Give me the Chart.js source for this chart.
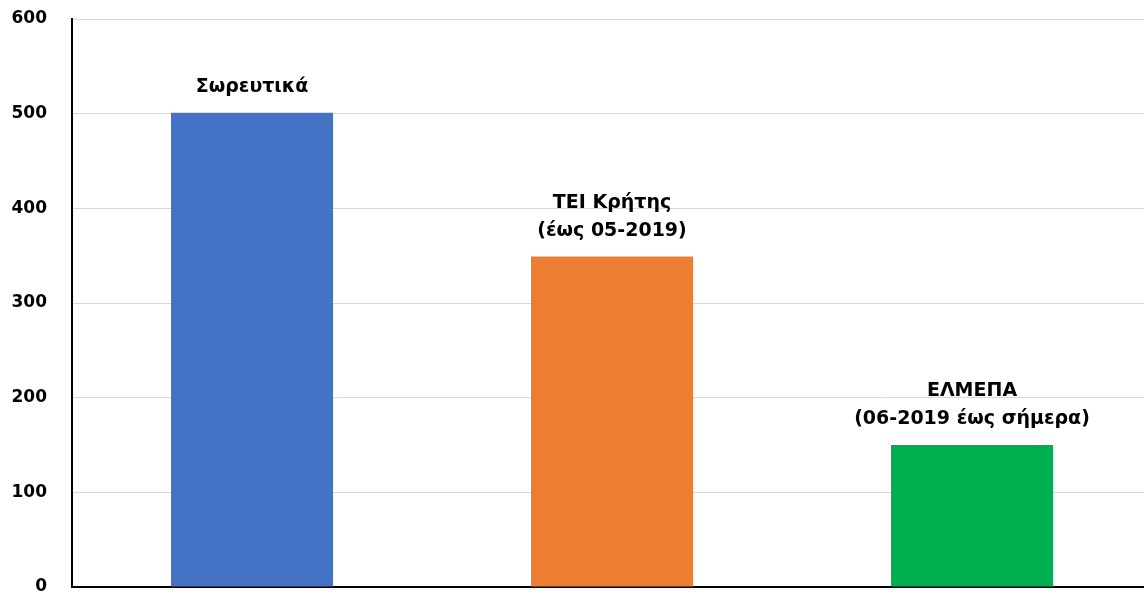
<!DOCTYPE html>
<html>
<head>
<meta charset="utf-8">
<script src="https://cdn.jsdelivr.net/npm/chart.js@4.4.1/dist/chart.umd.min.js"></script>
<style>
  html, body { margin: 0; padding: 0; background: #fff; overflow: hidden; }
  #wrap { width: 1152px; height: 599px; position: relative; }
</style>
</head>
<body>
<div id="wrap"><canvas id="myChart"></canvas></div>
<script>
// datos
const categories = ['Σωρευτικά', 'ΤΕΙ Κρήτης', 'ΕΛΜΕΠΑ'];
const values = [501, 349, 150];
const barColors = ['#4472C4', '#ED7D31', '#00B050'];
const barLabels = [
    ['Σωρευτικά'],
    ['ΤΕΙ Κρήτης', '(έως 05-2019)'],
    ['ΕΛΜΕΠΑ', '(06-2019 έως σήμερα)']
];
const yTicks = [0, 100, 200, 300, 400, 500, 600];

const FONT = '"DejaVu Sans", sans-serif';

// dibuja las etiquetas encima de cada barra
const barLabelPlugin = {
    id: 'barLabels',
    afterDatasetsDraw(chart) {
        const ctx = chart.ctx;
        const meta = chart.getDatasetMeta(0);
        ctx.save();
        ctx.font = 'bold 19px ' + FONT;
        ctx.fillStyle = '#000';
        ctx.textAlign = 'center';
        ctx.textBaseline = 'middle';
        meta.data.forEach((bar, i) => {
            const lines = barLabels[i];
            const lineH = 28;
            lines.forEach((txt, j) => {
                const y = bar.y - 26 - (lines.length - 1 - j) * lineH;
                ctx.fillText(txt, bar.x, y);
            });
        });
        ctx.restore();
    }
};

const ctx = document.getElementById('myChart').getContext('2d');
const myChart = new Chart(ctx, {
    type: 'bar',
    data: {
        labels: categories,
        datasets: [{
            data: values,
            backgroundColor: barColors,
            borderWidth: 0,
            barPercentage: 0.45,
            categoryPercentage: 1
        }]
    },
    options: {
        animation: false,
        responsive: true,
        maintainAspectRatio: false,
        layout: { padding: { top: 19, bottom: 12, left: 0, right: 0 } },
        plugins: {
            legend: { display: false },
            tooltip: { enabled: false }
        },
        scales: {
            x: {
                grid: { display: false },
                border: { color: '#000', width: 2 },
                ticks: { display: false },
                afterFit: (axis) => { axis.height = 0; }
            },
            y: {
                min: 0,
                max: 600,
                afterBuildTicks: (axis) => { axis.ticks = yTicks.map(v => ({ value: v })); },
                afterFit: (axis) => {
                    axis.width = 72;
                    axis.paddingTop = 0;
                    axis.paddingBottom = 0;
                },
                grid: { color: '#d9d9d9', lineWidth: 1, drawTicks: false },
                border: { color: '#000', width: 2 },
                ticks: {
                    padding: 25,
                    color: '#000',
                    font: { family: FONT, size: 17, weight: 'bold' }
                }
            }
        }
    },
    plugins: [barLabelPlugin]
});
</script>
</body>
</html>
